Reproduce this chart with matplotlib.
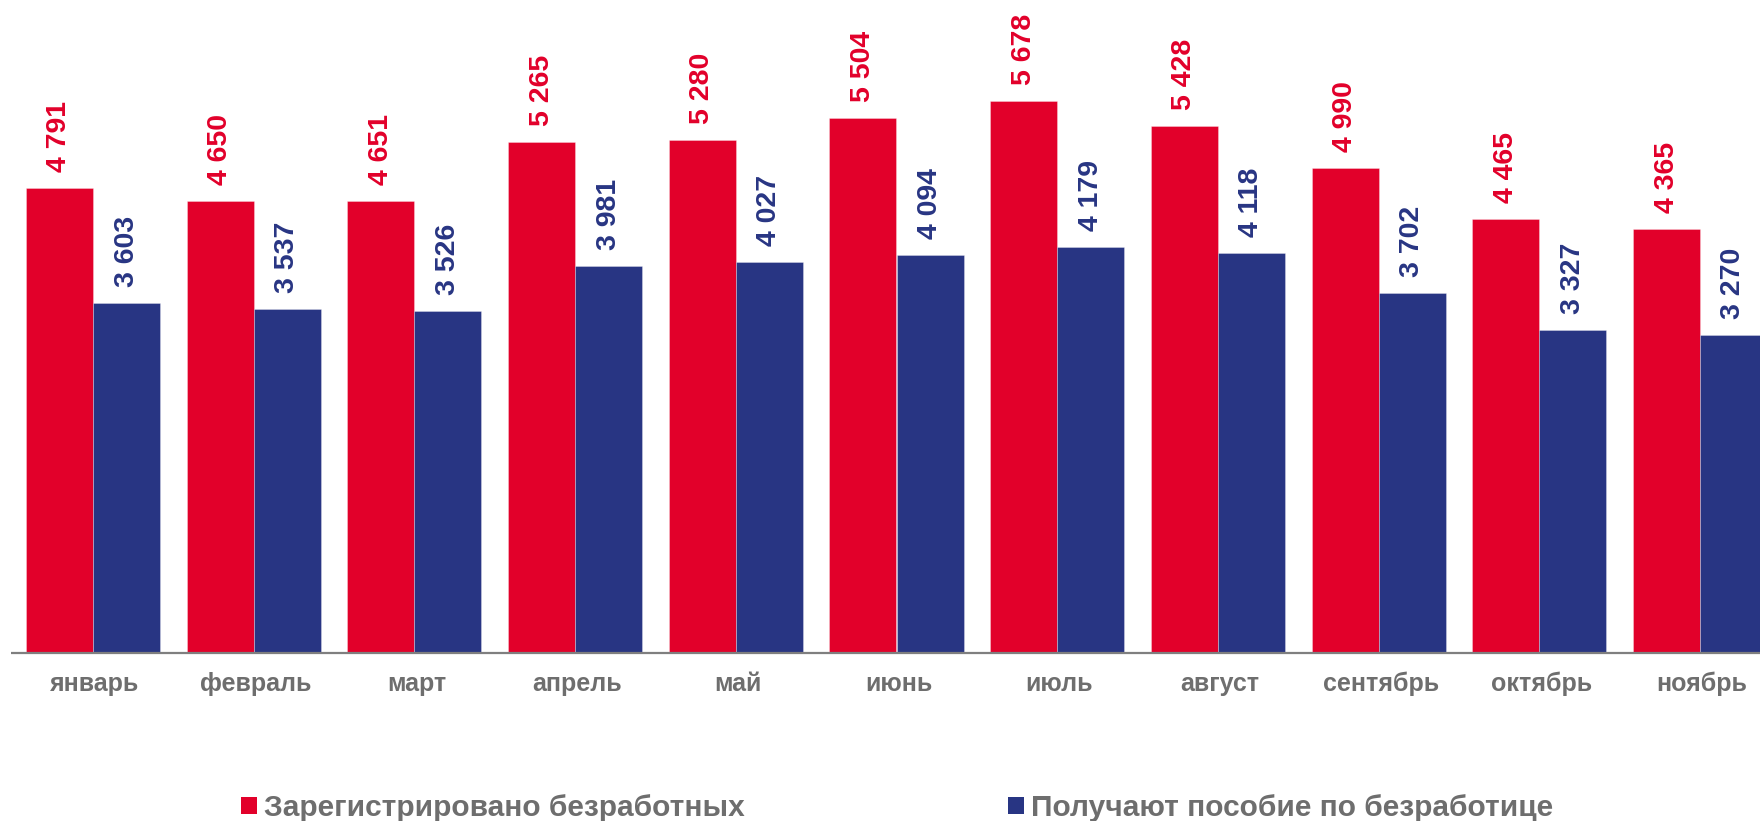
import matplotlib
matplotlib.use("Agg")
import matplotlib.pyplot as plt
import numpy as np

months = ["январь", "февраль", "март", "апрель", "май", "июнь", "июль",
          "август", "сентябрь", "октябрь", "ноябрь"]
registered = [4791, 4650, 4651, 5265, 5280, 5504, 5678, 5428, 4990, 4465, 4365]
benefits = [3603, 3537, 3526, 3981, 4027, 4094, 4179, 4118, 3702, 3327, 3270]
series_names = ["Зарегистрировано безработных", "Получают пособие по безработице"]

RED = "#E2002A"
BLUE = "#283583"
GRAY = "#6E6E6E"

plt.rcParams['font.family'] = ['Liberation Sans', 'DejaVu Sans']

W, H, DPI = 1760, 821, 100
fig = plt.figure(figsize=(W / DPI, H / DPI), dpi=DPI)
ax = fig.add_axes([0, 0, 1, 1])

step_px = 160.7
x0 = -93 / step_px
x1 = x0 + W / step_px
px_per_unit = 0.09713
base_px = 653
y1 = base_px / px_per_unit
y0 = -(H - base_px) / px_per_unit

x = np.arange(len(months))
w = 67 / step_px

b1 = ax.bar(x - w / 2, registered, w, color=RED, edgecolor=(1, 1, 1, 0.35), linewidth=0.6, zorder=2)
b2 = ax.bar(x + w / 2, benefits, w, color=BLUE, edgecolor=(1, 1, 1, 0.35), linewidth=0.6, zorder=2)

ax.hlines(0, -0.51, len(months) + 1, color="#7F7F7F", linewidth=1.6, zorder=3)

for xi, v in zip(x - w / 2, registered):
    s = f"{v:,}".replace(",", " ")
    ax.annotate(s, (xi, v), xytext=(0, 16), textcoords="offset pixels",
                rotation=90, ha="center", va="bottom", color=RED,
                fontsize=20.5, fontweight="bold")
for xi, v in zip(x + w / 2, benefits):
    s = f"{v:,}".replace(",", " ")
    ax.annotate(s, (xi, v), xytext=(0, 16), textcoords="offset pixels",
                rotation=90, ha="center", va="bottom", color=BLUE,
                fontsize=20.5, fontweight="bold")

for xi, m in zip(x, months):
    ax.annotate(m, (xi, 0), xytext=(2, -31), textcoords="offset pixels",
                ha="center", va="center", color=GRAY, fontsize=18, fontweight="bold")

ax.set_xlim(x0, x1)
ax.set_ylim(y0, y1)
ax.axis("off")

leg_kw = dict(frameon=False, handlelength=0.52, handleheight=0.52,
              handletextpad=0.25, borderpad=0, borderaxespad=0, loc="center left",
              prop={"weight": "bold", "size": 21.5})
leg1 = fig.legend([b1], [series_names[0]], bbox_to_anchor=(241 / W, 1 - 808 / H), **leg_kw)
leg2 = fig.legend([b2], [series_names[1]], bbox_to_anchor=(1008 / W, 1 - 808 / H), **leg_kw)
for leg in (leg1, leg2):
    for t in leg.get_texts():
        t.set_color(GRAY)
    for h in leg.legend_handles:
        h.set_edgecolor("none")

fig.savefig("out.png", dpi=DPI)
